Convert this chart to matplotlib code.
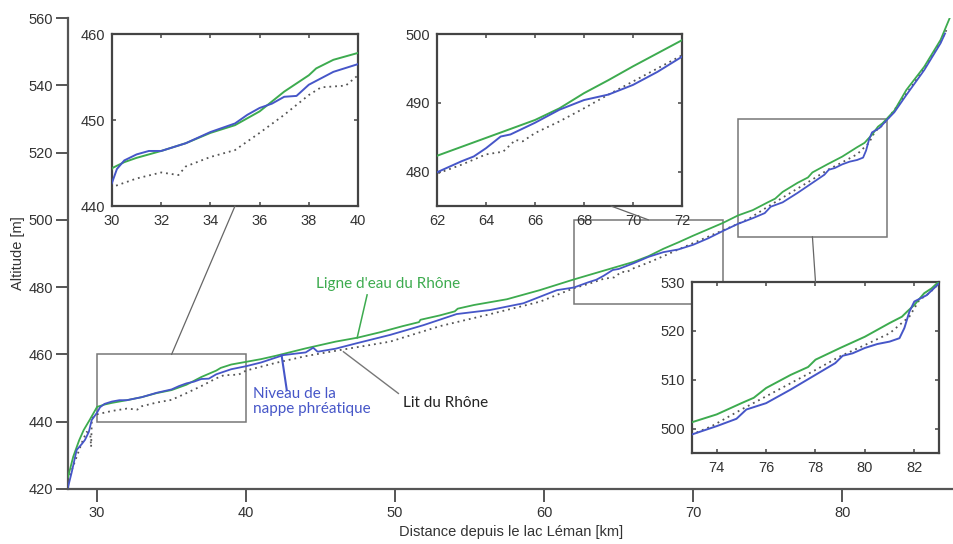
import matplotlib
matplotlib.use("Agg")
import matplotlib.pyplot as plt
from matplotlib.patches import Rectangle, ConnectionPatch

# ---------------- data ----------------
dist_eau = [28.05, 28.4, 28.8, 29.1, 29.5, 30.0, 30.5, 31.0, 32.0, 33.0, 34.0, 35.0, 36.0, 37.0,
            38.0, 38.3, 39.0, 40.0, 41.0, 42.0, 44.0, 46.0, 47.5, 49.0, 50.5, 51.6, 51.7, 53.0,
            54.0, 54.2, 55.3, 57.5, 59.7, 62.0, 64.0, 66.0, 67.0, 68.0, 69.0, 70.0, 71.0, 72.0,
            73.0, 74.0, 75.0, 75.5, 75.8, 76.0, 77.0, 77.7, 78.0, 79.0, 80.0, 81.0, 81.5, 81.7,
            82.0, 82.4, 82.7, 83.0, 83.5, 84.3, 85.5, 86.6, 87.25]
alt_eau = [423.5, 429.6, 434.5, 437.5, 440.5, 444.4, 445.1, 445.6, 446.4, 447.3, 448.5, 449.4, 451.0, 453.3,
           455.2, 456.0, 457.0, 457.8, 458.6, 459.6, 461.8, 463.8, 465.0, 466.6, 468.4, 469.6, 470.3, 471.6,
           472.8, 473.6, 474.7, 476.4, 479.1, 482.3, 484.9, 487.5, 489.2, 491.4, 493.3, 495.3, 497.2, 499.1,
           501.3, 502.9, 505.2, 506.3, 507.5, 508.3, 511.0, 512.6, 514.1, 516.5, 518.8, 521.6, 522.9, 523.9,
           525.3, 527.7, 528.7, 530.1, 532.5, 538.6, 545.5, 553.5, 560.4]

dist_nappe = [28.05, 28.3, 28.63, 29.0, 29.19, 29.45, 29.64, 30.0, 30.2, 30.5, 31.0, 31.5, 32.0, 33.0,
              34.0, 35.0, 35.5, 36.0, 36.5, 37.0, 37.5, 38.0, 39.0, 40.0, 41.0, 42.5, 44.0, 44.5,
              44.8, 46.0, 47.4, 49.66, 51.9, 54.13, 56.37, 58.6, 60.85, 62.0, 63.0, 63.5, 64.0, 64.6,
              65.0, 66.0, 67.0, 68.0, 68.5, 69.0, 70.0, 71.0, 72.0, 73.0, 74.0, 74.8, 75.2, 76.0,
              77.0, 78.0, 78.8, 79.1, 79.5, 80.0, 80.5, 81.0, 81.4, 81.6, 81.8, 82.0, 82.5, 83.0,
              83.5, 84.3, 85.5, 86.6, 86.9]
alt_nappe = [420.5, 425.0, 431.6, 433.5, 434.6, 437.0, 440.5, 442.7, 444.3, 445.3, 446.0, 446.4, 446.4, 447.3,
             448.6, 449.6, 450.6, 451.4, 451.9, 452.7, 452.8, 454.1, 455.6, 456.5, 457.6, 459.8, 460.6, 462.0,
             460.8, 461.7, 463.3, 465.8, 468.7, 472.0, 473.2, 475.2, 479.1, 479.9, 481.5, 482.2, 483.4, 485.1,
             485.4, 487.1, 489.0, 490.4, 490.8, 491.2, 492.6, 494.5, 496.7, 498.8, 500.5, 502.0, 503.9, 505.2,
             508.0, 511.0, 513.4, 514.9, 515.4, 516.5, 517.3, 517.8, 518.5, 520.6, 523.9, 526.0, 527.3, 529.7,
             532.0, 537.1, 544.5, 552.5, 555.4]

dist_lit = [28.05, 28.5, 29.0, 29.3, 29.55, 29.6, 29.65, 30.0, 31.0, 32.0, 32.7, 33.0, 34.0, 35.0,
            36.0, 37.0, 38.0, 38.5, 39.5, 40.0, 42.0, 44.0, 46.3, 49.66, 53.0, 56.4, 59.73, 62.0,
            63.0, 64.0, 64.7, 65.2, 65.5, 66.0, 67.0, 68.0, 69.0, 70.0, 71.0, 72.0, 73.0, 73.8,
            75.0, 76.0, 77.0, 78.0, 79.0, 80.0, 81.0, 81.8, 82.2, 82.6, 83.0, 84.3, 85.5, 86.6, 87.0]
alt_lit = [422.5, 428.0, 434.0, 437.0, 436.0, 432.5, 441.0, 442.2, 443.2, 443.9, 443.6, 444.6, 445.7, 446.5,
           448.5, 450.6, 452.9, 453.8, 454.0, 455.2, 457.5, 459.5, 461.3, 463.8, 468.4, 472.0, 475.7, 479.7,
           481.0, 482.5, 482.9, 484.6, 484.4, 485.6, 487.3, 489.2, 491.2, 493.1, 495.0, 496.9, 498.8, 500.5,
           503.9, 506.6, 509.3, 512.0, 514.8, 517.1, 519.5, 522.9, 526.3, 527.7, 529.7, 537.5, 545.0, 553.0, 556.5]

main_xticks = [30, 40, 50, 60, 70, 80]
main_yticks = [420, 440, 460, 480, 500, 520, 540, 560]

# zoom windows: (xmin, xmax, ymin, ymax), ticks
zooms = [
    dict(xlim=(30, 40), ylim=(440, 460), xticks=[30, 32, 34, 36, 38, 40], yticks=[440, 450, 460]),
    dict(xlim=(62, 72), ylim=(475, 500), xticks=[62, 64, 66, 68, 70, 72], yticks=[480, 490, 500]),
    dict(xlim=(73, 83), ylim=(495, 530), xticks=[74, 76, 78, 80, 82], yticks=[500, 510, 520, 530]),
]

label_eau = "Ligne d'eau du Rhône"
label_nappe = "Niveau de la\nnappe phréatique"
label_lit = "Lit du Rhône"
xlabel = "Distance depuis le lac Léman [km]"
ylabel = "Altitude [m]"

# ---------------- style ----------------
GREEN = "#3dab4f"
BLUE = "#4656c8"
DOT = "#555555"
SPINE = "#555555"
TXT = "#333333"
plt.rcParams['font.family'] = ['Liberation Sans', 'DejaVu Sans']
ANN_FONT = ['Lato', 'DejaVu Sans']

W, H = 954, 544
fig = plt.figure(figsize=(W / 100, H / 100), dpi=100)


def px_axes(l, t, r, b):
    return [l / W, (H - b) / H, (r - l) / W, (b - t) / H]


def draw_series(a, lw=1.3):
    a.plot(dist_lit, alt_lit, color=DOT, lw=1.3, ls=(0, (1, 2.2)), zorder=3)
    a.plot(dist_eau, alt_eau, color=GREEN, lw=lw, zorder=4)
    a.plot(dist_nappe, alt_nappe, color=BLUE, lw=lw, zorder=5)


# main axes
ax = fig.add_axes(px_axes(68, 18, 954, 489))
draw_series(ax)
ax.set_xlim(28.05, 87.5)
ax.set_ylim(420, 560)
ax.set_xticks(main_xticks)
ax.set_yticks(main_yticks)
for s in ['top', 'right']:
    ax.spines[s].set_visible(False)
for s in ['left', 'bottom']:
    ax.spines[s].set_color(SPINE)
    ax.spines[s].set_linewidth(1.6)
ax.tick_params(axis='both', direction='out', length=9, width=1.4, color=SPINE,
               labelsize=10.5, labelcolor=TXT)
ax.tick_params(axis='y', pad=1.5)
ax.tick_params(axis='x', pad=3)
ax.set_xlabel(xlabel, fontsize=10.5, color=TXT, labelpad=4)
ax.set_ylabel(ylabel, fontsize=10.5, color=TXT, labelpad=3)

# zoom rectangles on main axes
for z in zooms:
    x0, x1 = z['xlim']
    y0, y1 = z['ylim']
    ax.add_patch(Rectangle((x0, y0), x1 - x0, y1 - y0, fill=False, ec='#777777', lw=1.1, zorder=2))

# inset axes
inset_px = [(112, 34, 358, 206), (437, 34, 682, 206), (692, 282, 939, 453)]
insets = []
for z, p in zip(zooms, inset_px):
    a = fig.add_axes(px_axes(*p))
    draw_series(a, lw=1.4)
    a.set_xlim(*z['xlim'])
    a.set_ylim(*z['ylim'])
    a.set_xticks(z['xticks'])
    a.set_yticks(z['yticks'])
    for s in a.spines.values():
        s.set_color('#444444')
        s.set_linewidth(1.6)
    a.tick_params(axis='both', direction='in', length=3, width=1.1, color='#444444',
                  top=True, right=True, labelsize=10.5, labelcolor=TXT)
    a.tick_params(axis='x', pad=6)
    a.tick_params(axis='y', pad=5)
    insets.append(a)

# connector lines
connectors = [((35, 460), (35, 440)), ((67, 500), (69.1, 475)), ((78, 495), (78, 530))]
for (pA, pB), a in zip(connectors, insets):
    con = ConnectionPatch(xyA=pA, coordsA=ax.transData, xyB=pB, coordsB=a.transData,
                          color='#666666', lw=0.9, zorder=1)
    fig.add_artist(con)

# annotations
ax.plot([47.45, 48.12], [464.9, 477.7], color=GREEN, lw=1.1, zorder=6)
ax.text(49.55, 481.0, label_eau, color=GREEN, fontsize=11, family=ANN_FONT,
        ha='center', va='center', zorder=6)
ax.plot([42.38, 42.73], [459.8, 449.4], color=BLUE, lw=1.5, zorder=6)
ax.text(40.47, 450.2, label_nappe, color=BLUE, fontsize=11, family=ANN_FONT,
        ha='left', va='top', linespacing=1.1, zorder=6)
ax.plot([46.53, 50.22], [460.8, 448.4], color='#777777', lw=1.0, zorder=6)
ax.text(50.55, 445.6, label_lit, color='#222222', fontsize=11, family=ANN_FONT,
        ha='left', va='center', zorder=6)

fig.savefig("out.png", dpi=100)
